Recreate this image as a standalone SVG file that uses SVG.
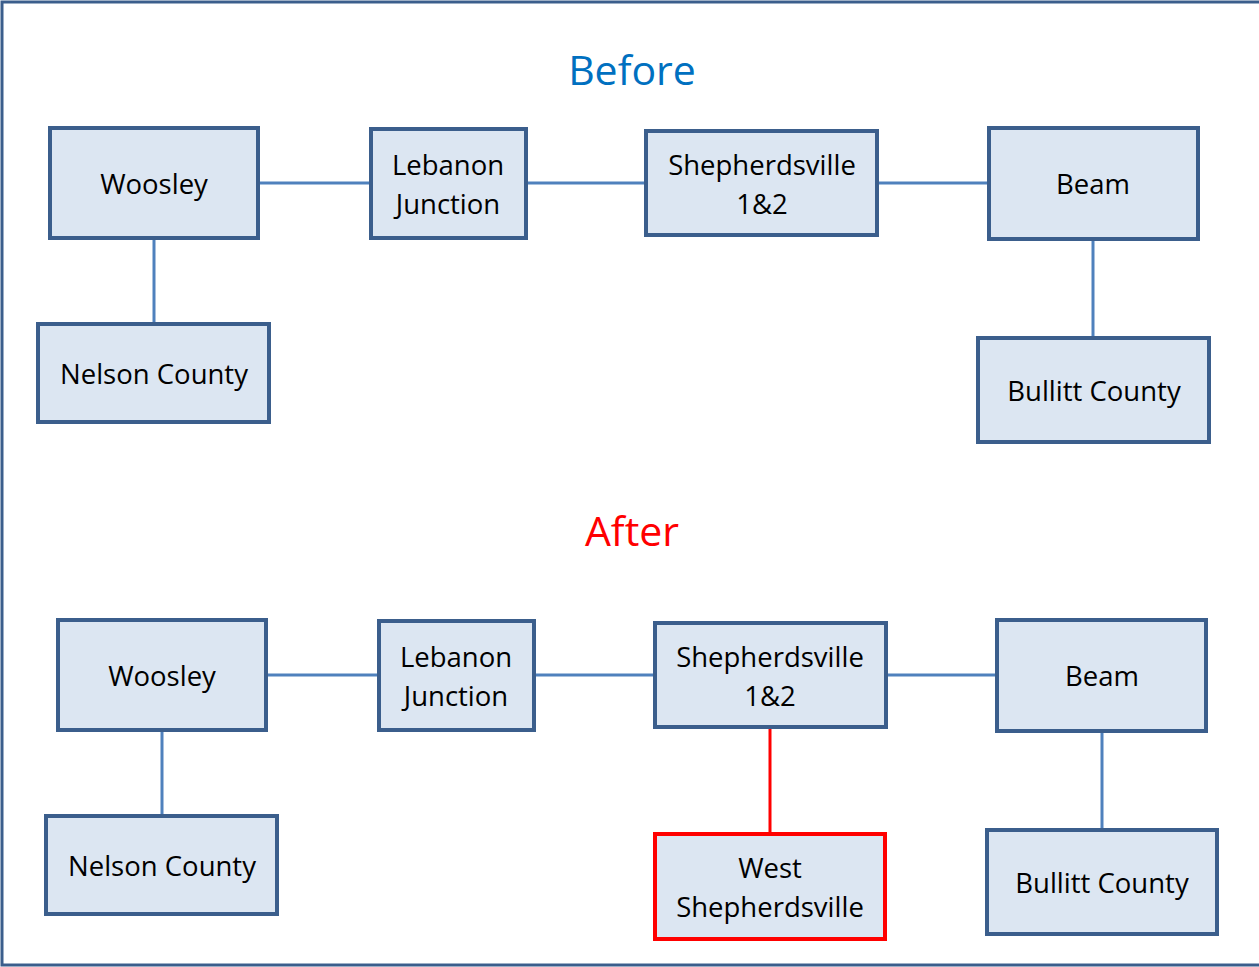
<svg xmlns="http://www.w3.org/2000/svg" width="1259" height="967" viewBox="0 0 1259 967">
<style>
.box{fill:#DCE6F2;stroke:#3B5E8C;stroke-width:4}
.new{fill:#DCE6F2;stroke:#FF0000;stroke-width:4}
.lbl{font-family:"Open Sans","Liberation Sans",sans-serif;font-size:27.5px;fill:#000;text-anchor:middle}
.ttl{font-family:"Open Sans","Liberation Sans",sans-serif;font-size:41px;text-anchor:middle}
.c{stroke:#4F81BD;stroke-width:3;fill:none}
.cr{stroke:#FF0000;stroke-width:3;fill:none}
</style>
<rect width="1259" height="967" fill="#fff"/>
<rect x="2" y="2" width="1262" height="963" fill="none" stroke="#3B5E8C" stroke-width="3"/>
<text class="ttl" x="632" y="85" fill="#0070C0">Before</text>
<text class="ttl" x="632" y="546" fill="#FF0000">After</text>
<g id="connectors">
<line class="c" x1="260" y1="183" x2="369" y2="183"/>
<line class="c" x1="528" y1="183" x2="644" y2="183"/>
<line class="c" x1="879" y1="183" x2="987" y2="183"/>
<line class="c" x1="154" y1="240" x2="154" y2="322"/>
<line class="c" x1="1093" y1="241" x2="1093" y2="336"/>
<line class="c" x1="268" y1="675" x2="377" y2="675"/>
<line class="c" x1="536" y1="675" x2="653" y2="675"/>
<line class="c" x1="888" y1="675" x2="995" y2="675"/>
<line class="c" x1="162" y1="732" x2="162" y2="814"/>
<line class="c" x1="1102" y1="733" x2="1102" y2="828"/>
<line class="cr" x1="770" y1="729" x2="770" y2="832"/>
</g>
<g id="b-woosley"><rect class="box" x="50" y="128" width="208" height="110"/><text class="lbl" x="154" y="194">Woosley</text></g>
<g id="b-lebanon"><rect class="box" x="371" y="129" width="155" height="109"/><text class="lbl" x="448" y="175">Lebanon</text><text class="lbl" x="448" y="214">Junction</text></g>
<g id="b-shep"><rect class="box" x="646" y="131" width="231" height="104"/><text class="lbl" x="762" y="175">Shepherdsville</text><text class="lbl" x="762" y="214">1&amp;2</text></g>
<g id="b-beam"><rect class="box" x="989" y="128" width="209" height="111"/><text class="lbl" x="1093" y="194">Beam</text></g>
<g id="b-nelson"><rect class="box" x="38" y="324" width="231" height="98"/><text class="lbl" x="154" y="384">Nelson County</text></g>
<g id="b-bullitt"><rect class="box" x="978" y="338" width="231" height="104"/><text class="lbl" x="1094" y="401">Bullitt County</text></g>
<g id="a-woosley"><rect class="box" x="58" y="620" width="208" height="110"/><text class="lbl" x="162" y="686">Woosley</text></g>
<g id="a-lebanon"><rect class="box" x="379" y="621" width="155" height="109"/><text class="lbl" x="456" y="667">Lebanon</text><text class="lbl" x="456" y="706">Junction</text></g>
<g id="a-shep"><rect class="box" x="655" y="623" width="231" height="104"/><text class="lbl" x="770" y="667">Shepherdsville</text><text class="lbl" x="770" y="706">1&amp;2</text></g>
<g id="a-beam"><rect class="box" x="997" y="620" width="209" height="111"/><text class="lbl" x="1102" y="686">Beam</text></g>
<g id="a-nelson"><rect class="box" x="46" y="816" width="231" height="98"/><text class="lbl" x="162" y="876">Nelson County</text></g>
<g id="a-west"><rect class="new" x="655" y="834" width="230" height="105"/><text class="lbl" x="770" y="878">West</text><text class="lbl" x="770" y="917">Shepherdsville</text></g>
<g id="a-bullitt"><rect class="box" x="987" y="830" width="230" height="104"/><text class="lbl" x="1102" y="893">Bullitt County</text></g>
</svg>
